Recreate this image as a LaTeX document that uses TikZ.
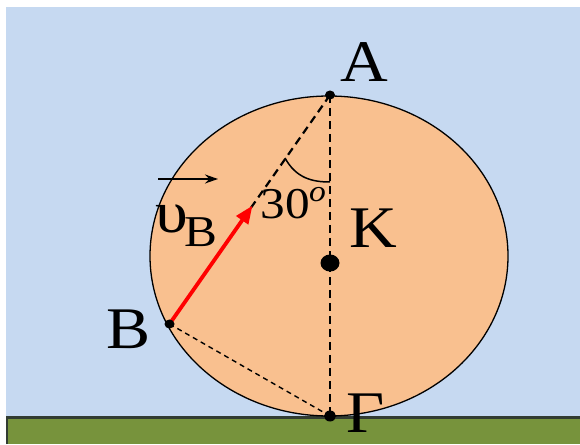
\documentclass[tikz,border=0pt]{standalone}
\usepackage{fontspec}
\setmainfont{Liberation Serif}
\usetikzlibrary{arrows.meta,calc}
\definecolor{sky}{RGB}{198,217,241}
\definecolor{peach}{RGB}{249,192,143}
\definecolor{grass}{RGB}{119,147,60}
\definecolor{edgec}{RGB}{50,60,50}
\newcommand{\sxs}[1]{\scalebox{1.12}[1]{#1}}
\begin{document}
\begin{tikzpicture}[x=1pt,y=1pt,
  lbl/.style={inner sep=0pt,anchor=base,font=\fontsize{59}{61}\selectfont},
  lblm/.style={inner sep=0pt,anchor=base,font=\fontsize{44}{46}\selectfont},
  dot/.style={fill=black},
  dline/.style={dash pattern=on 8pt off 5pt,line width=2.2pt},
  tline/.style={dash pattern=on 5pt off 4pt,line width=1.4pt}]
\useasboundingbox (0,0) rectangle (580,444);
\fill[white] (0,0) rectangle (580,444);
\fill[sky] (5.5,0) rectangle (580,437);
\fill[grass] (5.5,0) rectangle (580,27);
\draw[edgec,line width=2.5pt] (6.75,0) -- (6.75,26.5) -- (580,26.5);
% wheel
\draw[fill=peach,line width=1.3pt] (329,188) ellipse [x radius=179, y radius=160];
% points
\coordinate (A) at (330,349);
\coordinate (K) at (330,181);
\coordinate (G) at (330,28);
\coordinate (B) at (169.5,120);
\coordinate (T) at ($(B)!0.517!(A)$);
% dashed lines
\draw[dline] (A) -- (G);
\draw[dline] (A) -- (B);
\draw[tline] (B) -- (G);
% angle arc
\coordinate (a1) at (285,286);
\coordinate (a2) at (330,262);
\draw[line width=1.5pt] (a1) .. controls (296,266) and (312,262) .. (a2);
% velocity
\draw[red,line width=3.8pt,-{Triangle[length=18pt,width=14pt]}] (B) -- (T);
% dots
\fill[dot] (A) ellipse [x radius=5, y radius=4.5];
\fill[dot] (B) ellipse [x radius=5, y radius=4.5];
\fill[dot] (G) ellipse [x radius=6, y radius=5.5];
\fill[dot] (K) ellipse [x radius=9.5, y radius=8.5];
% labels
\node[lbl] (lA) at (364.5,362) {\sxs{A}};
\node[lbl] (lK) at (373,196) {\sxs{K}};
\node[lbl] (lB) at (129,95) {\sxs{B}};
\node[lbl] (lG) at (366,12) {\sxs{Γ}};
\node[lblm] (l30) at (285,225) {\sxs{30}};
\node[inner sep=0pt,anchor=base,font=\fontsize{30}{32}\selectfont\itshape] (lo) at (317.5,242) {\sxs{o}};
\node[lbl] (lu) at (172,211) {\sxs{υ}};
\node[lblm] (lub) at (200.5,197) {\sxs{B}};
\coordinate (v1) at (158,265);
\coordinate (v2) at (218,265);
\draw[line width=1.6pt,-{Stealth[length=13pt,width=9pt]}] (v1) -- (v2);
\end{tikzpicture}
\end{document}
